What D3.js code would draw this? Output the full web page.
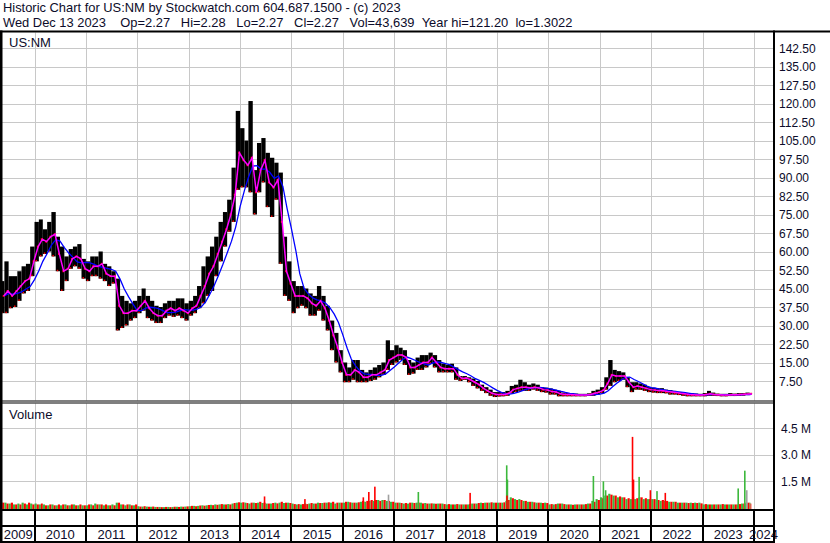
<!DOCTYPE html>
<html><head><meta charset="utf-8">
<script src="https://cdn.jsdelivr.net/npm/d3@7"></script>
<style>
body{margin:0;background:#fff}
svg{display:block}
text{font-family:"Liberation Sans",Arial,sans-serif;fill:#0c0c2a}
</style>
</head><body>
<svg id="c" width="830" height="543"></svg>
<script>
// ---------- DATA ----------
const header1 = "Historic Chart for US:NM by Stockwatch.com 604.687.1500 - (c) 2023";
const header2 = "Wed Dec 13 2023    Op=2.27   Hi=2.28   Lo=2.27   Cl=2.27   Vol=43,639  Year hi=121.20  lo=1.3022";
const symbol = "US:NM";
const firstMonth = new Date(2009, 4, 1);   // May 2009
const lastDate = new Date(2023, 11, 13);

// monthly high / low / typical close, May 2009 .. Dec 2023
const priceHigh = [
 48,56,50,50,52,54,55,62,
 72,73,69,72,76,66,62,58,61,62,63,57,
 56,58,58,60,55,54,52,49,42,40,39,40,
 42,45,42,40,38,37.5,39,40,40,41,41,39,
 40,42,46,54,58,62,66,72,76,81,94,117,
 110,105,121,93,104,106,100,98,96,92,66,56,
 48,46,46,45,43,42,46,42,38,32,27,20,
 15,13,16,16,12,11,12,13,14,15,24,20,
 22,21,20,16,15,17,18,18,19,18,16,14.5,
 14,14.5,13,9.5,9.5,9,8.5,7.5,6,5,4,3,
 3,3,3.5,5.5,6,8,7,6,6.5,6,5,4.8,
 4.5,4,3.5,2.8,2.6,2.5,2.4,2.3,2.3,2.5,3.5,4,
 5,9,16,12,11.5,11,9,7,7,6.5,6,5,
 4.8,4.6,4.6,4,3.8,3.5,3,3,2.6,2.5,2.4,2.3,
 2.6,3.5,2.8,2.4,2.3,2.3,2.6,2.4,2.6,2.6,2.8,2.5
];
const priceLow = [
 35,35,37,37.5,40,43,44,50,
 56,58,59,60,58,52,44,48,53,54,53,49,
 48,50,50,49,48,46,47,28,29,30,32,33,
 35,36,33,32,31,31,33,34,33.5,34,33,32,
 34,35,37,39,42,44,50,56,62,68,72,85,
 86,86,84,75,84,88,78,74,81,55,42,40,
 35,37,38,37,34,34,36,32,28,20,15,11,
 7,7,8,7,7,7,7.5,8,9,10,12,14,
 15,16,14,10,10.5,12,12,13,14.5,13,11,11,
 11,11,8,7.5,8,7,5.5,4.5,3.5,2.6,1.5,1,
 1.2,1.3,1.5,2.5,3,3.5,3.5,3.5,4,3.5,3,2.8,
 2,2,1.3,1.3,1.3,1.3,1.3,1.3,1.3,1.5,1.5,2,
 2.6,4,5.5,7,7.5,8,5,3,4,3.9,3.5,3,
 2.8,2.6,2.6,2.5,2,2,1.8,1.5,1.3,1.3,1.3,1.3,
 1.3,1.5,1.5,1.4,1.3,1.3,1.4,1.4,1.5,1.6,1.8,2.1
];
const priceClose = [
 42,44,42,44,46,48,49,56,
 62,65,64,66,67,59,52,53,57,58,57,53,
 52,54,54,55,51,50,50,38,35,35,36,36,
 38,40,37,35,34,34,36,37,36,37,36,35,
 37,38,42,46,51,54,59,64,69,75,83,100,
 97,95,98,84,93,97,88,86,89,72,52,47,
 42,42,42,41,39,38,40,37,32,26,21,15,
 10,10,12,11,9,9,10,10,11,12,16,17,
 18,18,17,13,13,14,15,15,17,15,13,12.5,
 12.5,12.5,10,8.5,8.7,8,7,6,4.5,3.5,2.5,2,
 2,2,2.5,4,4.5,5,5,4.7,5,4.7,4,3.8,
 3.2,3,2.3,2,2,1.9,1.8,1.8,1.8,2,2.5,3,
 3.8,6.5,10,9.5,9.5,9.5,7,5,5.5,5,4.5,4,
 3.8,3.6,3.5,3.2,3,2.8,2.5,2.3,2,1.9,1.8,1.8,
 2,2.3,2,1.9,1.8,1.8,1.9,1.9,2,2.1,2.2,2.27
];
// typical daily volume (millions) on up days / down days per month
const volUp = [
 .35,.3,.25,.2,.25,.3,.2,.25,
 .25,.2,.2,.15,.2,.15,.15,.2,.15,.2,.15,.15,
 .15,.2,.25,.2,.15,.15,.2,.3,.2,.15,.2,.15,
 .1,.08,.08,.07,.06,.06,.05,.06,.06,.07,.08,.08,
 .1,.12,.12,.15,.15,.18,.2,.2,.2,.22,.25,.3,
 .3,.3,.25,.3,.3,.28,.25,.25,.3,.3,.28,.3,
 .25,.2,.2,.25,.25,.25,.3,.28,.3,.3,.25,.3,
 .3,.35,.3,.3,.35,.35,.4,.4,.45,.45,.4,.35,
 .3,.3,.25,.25,.3,.3,.3,.28,.25,.25,.25,.25,
 .2,.2,.2,.2,.2,.2,.25,.25,.3,.3,.3,.3,
 .3,.3,.4,.6,.5,.5,.4,.35,.35,.3,.3,.3,
 .2,.2,.25,.25,.2,.2,.2,.2,.2,.25,.4,.5,
 .6,.7,.8,.7,.6,.6,.5,.5,.5,.6,.5,.5,
 .5,.45,.4,.4,.35,.35,.3,.3,.3,.3,.3,.3,
 .2,.2,.2,.2,.2,.2,.2,.2,.2,.25,.3,.3
];
const volDown = [
 .3,.25,.3,.2,.2,.25,.3,.2,
 .2,.25,.15,.2,.15,.2,.2,.15,.2,.15,.2,.15,
 .2,.15,.2,.2,.2,.15,.15,.3,.2,.2,.15,.2,
 .08,.1,.07,.08,.06,.05,.06,.05,.07,.06,.07,.09,
 .12,.1,.14,.13,.17,.16,.18,.22,.2,.2,.28,.32,
 .32,.28,.3,.28,.35,.3,.25,.28,.26,.35,.3,.28,
 .22,.22,.22,.22,.28,.25,.28,.3,.32,.35,.3,.3,
 .35,.32,.3,.32,.4,.4,.45,.45,.4,.45,.4,.35,
 .3,.28,.28,.3,.28,.3,.26,.25,.26,.24,.25,.22,
 .22,.2,.22,.2,.2,.22,.25,.28,.28,.3,.32,.3,
 .3,.32,.45,.55,.45,.45,.4,.35,.32,.3,.28,.28,
 .22,.22,.25,.22,.2,.18,.2,.2,.22,.25,.35,.45,
 .55,.7,.75,.7,.65,.6,.55,.6,.55,.6,.55,.5,
 .5,.45,.45,.4,.35,.35,.3,.3,.28,.28,.28,.26,
 .22,.2,.2,.2,.22,.2,.2,.2,.22,.25,.3,.25
];
const spikeDates = ["2014-06-18","2015-04-01","2016-05-20","2016-06-28","2016-08-10","2016-11-15","2017-06-15","2018-06-18","2019-03-05","2019-03-10","2019-03-07","2020-11-10","2021-01-20","2021-02-05","2021-08-15","2021-08-22","2021-10-01","2021-12-20","2022-02-05","2022-04-05","2023-09-05","2023-10-22","2023-11-05"];
const spikeVols  = [0.65,0.5,0.6,0.9,1.2,0.75,0.9,0.85,2.4,1.6,0.7,1.8,1.5,1.0,4.0,1.6,1.75,1.0,0.95,0.85,1.1,2.1,1.0];
const spikeKind  = ["dn","dn","dn","dn","dn","flat","up","dn","up","up","dn","up","up","up","dn","dn","up","dn","up","dn","up","up","flat"];
const priceTicks = [7.5,15,22.5,30,37.5,45,52.5,60,67.5,75,82.5,90,97.5,105,112.5,120,127.5,135,142.5];
const volTicks = [1.5,3.0,4.5];
const yearLabels = [2009,2010,2011,2012,2013,2014,2015,2016,2017,2018,2019,2020,2021,2022,2023,2024];

// ---------- CHART ----------
const svg = d3.select("#c");
const plotL = 2, plotR = 773;
const priceTop = 32.5, priceBot = 400.5, volTop = 403.5, volBot = 509;
const x = d3.scaleTime().domain([new Date(2009,4,15), new Date(2024,4,15)]).range([plotL, plotR]);
const y = d3.scaleLinear().domain([0,142.5]).range([399.5,48]);
const yv = d3.scaleLinear().domain([0,4.5]).range([508,428]);
const colors = {up:"#3cb83c", dn:"#ff0000", flat:"#a0a0a0"};
const grid = "#c8c8c8";
const snap = v => Math.round(v) + 0.5;
const keepSpaces = s => s.replace(/ {2,}/g, m => " " + "\u00a0".repeat(m.length-1));

svg.append("rect").attr("width",830).attr("height",543).attr("fill","#fff");

// header
svg.append("text").attr("x",3).attr("y",12.2).attr("font-size",12.9).text(keepSpaces(header1));
svg.append("text").attr("x",3).attr("y",26.8).attr("font-size",12.9).text(keepSpaces(header2));

// clip paths
const defs = svg.append("defs");
defs.append("clipPath").attr("id","cp").append("rect").attr("x",plotL).attr("y",priceTop).attr("width",plotR-plotL).attr("height",priceBot-priceTop);
defs.append("clipPath").attr("id","cv").append("rect").attr("x",plotL).attr("y",volTop).attr("width",plotR-plotL).attr("height",volBot-volTop);

// grid lines
const yearDates = yearLabels.slice(1).map(yy => new Date(yy,0,1));
const gGrid = svg.append("g").attr("stroke",grid).attr("stroke-width",1);
gGrid.selectAll(".hp").data(priceTicks).join("line")
  .attr("x1",plotL).attr("x2",plotR).attr("y1",d=>snap(y(d))).attr("y2",d=>snap(y(d)));
gGrid.selectAll(".hv").data(volTicks).join("line").attr("class","hv")
  .attr("x1",plotL).attr("x2",plotR).attr("y1",d=>snap(yv(d))).attr("y2",d=>snap(yv(d)));
yearDates.forEach(d => {
  const xx = snap(x(d));
  if (xx < plotR) {
    gGrid.append("line").attr("x1",xx).attr("x2",xx).attr("y1",priceTop).attr("y2",priceBot);
    gGrid.append("line").attr("x1",xx).attr("x2",xx).attr("y1",volTop).attr("y2",volBot);
  }
});

// price bars
const months = priceHigh.map((h,i) => {
  const d0 = d3.timeMonth.offset(firstMonth, i);
  let d1 = d3.timeMonth.offset(firstMonth, i+1);
  if (d1 > lastDate) d1 = lastDate;
  return {i, d0, d1, hi:h, lo:priceLow[i], cl:priceClose[i], vu:volUp[i], vd:volDown[i]};
});
const gP = svg.append("g").attr("clip-path","url(#cp)");
gP.selectAll(".bar").data(months).join("rect")
  .attr("x",d=>x(d.d0)).attr("width",d=>Math.max(1,x(d.d1)-x(d.d0)))
  .attr("y",d=>y(d.hi)).attr("height",d=>Math.max(1.5,y(d.lo)-y(d.hi)))
  .attr("fill","#000");
gP.selectAll(".tick").data(months).join("rect")
  .attr("x",d=>x(d.d1)-2).attr("width",2)
  .attr("y",d=>y(d.cl)-1).attr("height",2)
  .attr("fill","#ff0000");
gP.selectAll(".lotick").data(months).join("rect")
  .attr("x",d=>x(d.d0)+1).attr("width",1.5)
  .attr("y",d=>y(d.lo)-1.5).attr("height",1.5)
  .attr("fill","#ff0000");

// moving averages (derived from the monthly closes)
const blueVals = months.map((m,i) => d3.mean(priceClose.slice(Math.max(0,i-4), i+1)));
const line = d3.line().x(d=>d[0]).y(d=>d[1]);
gP.append("path")
  .attr("d", line(months.map((m,i)=>[x(m.d1), y(blueVals[i])])))
  .attr("fill","none").attr("stroke","#0000ff").attr("stroke-width",1.3);
gP.append("path")
  .attr("d", line(months.map((m,i)=>[(x(m.d0)+x(m.d1))/2+1.5, y(m.cl)])))
  .attr("fill","none").attr("stroke","#ff00ff").attr("stroke-width",1.5);

// volume bars
const gV = svg.append("g").attr("clip-path","url(#cv)");
months.forEach(m => {
  const x0 = x(m.d0), x1 = x(m.d1), xm = (x0+x1)/2;
  gV.append("rect").attr("x",x0).attr("width",Math.max(0.5,xm-x0)).attr("y",yv(m.vu)).attr("height",508-yv(m.vu)+1).attr("fill",colors.up);
  gV.append("rect").attr("x",xm).attr("width",Math.max(0.5,x1-xm)).attr("y",yv(m.vd)).attr("height",508-yv(m.vd)+1).attr("fill",colors.dn);
});
spikeDates.forEach((s,i) => {
  const xx = x(d3.timeParse("%Y-%m-%d")(s));
  gV.append("rect").attr("x",xx).attr("width",1.6).attr("y",yv(spikeVols[i])).attr("height",508-yv(spikeVols[i])+1).attr("fill",colors[spikeKind[i]]);
});

// frame
const black = (xx,yy,w,h) => svg.append("rect").attr("x",xx).attr("y",yy).attr("width",w).attr("height",h).attr("fill","#000");
black(0,30.5,830,2);
black(0,30.5,2.5,512.5);
black(773,30.5,2,512.5);
black(0,400.5,775,1);
black(0,402.5,775,1);
black(0,509,775,2);
black(0,525,775,2);
black(0,541,775,2);

// x axis: year separators and labels
yearDates.forEach(d => { const xx = x(d); if (xx < plotR) black(Math.round(xx)-1,510,2,32); });
yearLabels.forEach(yy => {
  const a = Math.max(plotL, x(new Date(yy,0,1)));
  const b = Math.min(plotR, x(new Date(yy+1,0,1)));
  svg.append("text").attr("x",(a+b)/2).attr("y",538.5).attr("font-size",13).attr("text-anchor","middle").text(yy);
});
// redraw right border over the overflowing last label
black(773,509,2,34);

// y axis labels
svg.selectAll(".pl").data(priceTicks).join("text")
  .attr("x",779).attr("y",d=>y(d)+4.5).attr("font-size",12).text(d=>d.toFixed(2));
svg.selectAll(".vl").data(volTicks).join("text")
  .attr("x",781).attr("y",d=>yv(d)+4.5).attr("font-size",12).text(d=>d.toFixed(1)+" M");

// panel titles
svg.append("text").attr("x",9).attr("y",46.5).attr("font-size",13).text(symbol);
svg.append("text").attr("x",9).attr("y",418.5).attr("font-size",13).text("Volume");
</script>
</body></html>
